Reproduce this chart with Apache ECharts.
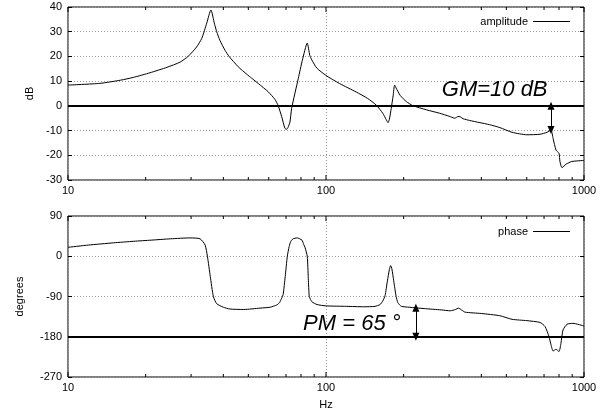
<!DOCTYPE html>
<html>
<head>
<meta charset="utf-8">
<script src="https://cdn.jsdelivr.net/npm/echarts@6/dist/echarts.min.js"></script>
<style>
html, body { margin: 0; padding: 0; background: #fff; }
#chart { width: 600px; height: 415px; }
</style>
</head>
<body>
<div id="chart"></div>
<script>
// amplitude curve (Hz, dB)
var ampFreq = [10, 13.3, 16, 17.9, 20.8, 24.2, 27.2, 29.2, 31.5, 33, 34.5, 35.8, 37, 37.7, 38.8, 40.6, 42.1, 45.7, 49.3, 51.5,
  54.7, 59.7, 63.4, 65.3, 67.3, 69.3, 70.4, 71.2, 72.5, 73.6, 78.1, 81, 84.6, 86.5, 88.1, 92.1, 100, 113, 131, 145,
  157, 166, 171, 174, 176, 179, 182, 184.5, 187, 194, 205, 217, 245, 276, 300, 316, 325, 331, 340, 360,
  395, 430, 472, 526, 601, 675, 719, 745, 759, 779, 800, 807, 822, 852, 898, 1000];
var ampDb = [8.4, 9.1, 10.4, 11.5, 13.4, 15.6, 17.7, 20.0, 23.8, 27.3, 33.5, 38.8, 33.0, 30.0, 26.5, 22.5, 20.0, 15.8, 12.8, 11.2,
  9.0, 5.7, 2.6, 0, -4.3, -9.1, -9.5, -8.8, -6.5, -1, 11.1, 18.5, 25.4, 20.5, 18.6, 15.3, 12.3, 9.0, 5.6, 3.0,
  0.2, -3.0, -5.5, -6.8, -5.5, -1, 4, 8.4, 7.2, 4.2, 1.7, 0.1, -1.6, -3.0, -4.2, -5.0, -4.3, -4.4, -5.2, -5.9,
  -6.8, -7.6, -8.8, -10.7, -11.7, -11.5, -10.7, -9.8, -13.2, -17.9, -19.2, -22.6, -25.0, -23.6, -22.5, -22.1];

// phase curve (Hz, degrees)
var phaseFreq = [10, 12, 15, 18, 21, 25, 29.7, 32.5, 34, 34.7, 35.6, 36.6, 37.7, 40, 42.4, 48, 55.5, 60.7, 64.4, 66,
  67.3, 68.2, 69.5, 70.8, 72, 73, 74.5, 77.3, 80.7, 82, 82.9, 84.6, 85.4, 86.1, 87, 88.2, 92.3, 100, 120, 140,
  155, 162, 166, 169.4, 173, 176, 178, 180, 183, 187, 190, 196, 210, 240, 280, 303, 318, 326, 335, 346,
  400, 472, 526, 601, 675, 706, 732, 745, 759, 779, 800, 814, 829, 860, 906, 1000];
var phaseDeg = [20, 25, 30, 33.5, 36, 39, 41, 39, 25, 0, -45, -90, -106, -114, -118, -119, -116, -114, -109, -104,
  -94, -86, -45, 0, 22, 33, 39, 41, 36, 26, 20, 0, -50, -90, -96, -102, -108, -111, -112, -113,
  -112, -108, -100, -88, -55, -30, -21, -28, -55, -90, -104, -112, -114, -117, -120, -122, -119, -116, -120, -125,
  -128, -133, -141, -144, -148, -157, -180, -198, -212, -208, -213, -195, -165, -152, -150, -156];

// axes
var freqMin = 10, freqMax = 1000;
var freqTicks = [10, 20, 30, 40, 50, 60, 70, 80, 90, 100, 200, 300, 400, 500, 600, 700, 800, 900, 1000];
var dbMin = -30, dbMax = 40, dbStep = 10;
var degMin = -270, degMax = 90, degStep = 90;

// margins
var gmFreq = 745, gmDb = -9.8;
var pmFreq = 223, pmDeg = -115;
var gmText = 'GM=10 dB', gmTextAt = [281, 6.4];
var pmText = 'PM = 65 °', pmTextAt = [81.5, -151.5];

var font = '"Liberation Sans", Arial, Helvetica, sans-serif';

function pairs(xs, ys) {
  return xs.map(function (x, i) { return [x, ys[i]]; });
}

function tickItem(params, api) {
  var f = api.value(0);
  var x = api.coord([f, api.value(1)])[0];
  var cs = params.coordSys;
  var major = Math.abs(Math.log10(f) - Math.round(Math.log10(f))) < 1e-6;
  var len = major ? 5 : 3;
  var bottom = cs.y + cs.height;
  var st = { stroke: '#000', lineWidth: 1 };
  return {
    type: 'group',
    children: [
      { type: 'line', shape: { x1: x, y1: bottom, x2: x, y2: bottom - len }, style: st },
      { type: 'line', shape: { x1: x, y1: cs.y, x2: x, y2: cs.y + len }, style: st }
    ]
  };
}

function xAxisFor(i, name) {
  return {
    type: 'log', logBase: 10, gridIndex: i, min: freqMin, max: freqMax,
    name: name, nameLocation: 'middle', nameGap: 22,
    nameTextStyle: { color: '#000', fontSize: 11, fontFamily: font },
    axisLine: { show: false }, axisTick: { show: false },
    axisLabel: { color: '#000', fontSize: 11, fontFamily: font, margin: 5,
      formatter: function (v) { return String(Math.round(v)); } },
    splitLine: { show: true, lineStyle: { color: '#999', type: [1, 2], width: 1 } }
  };
}

function yAxisFor(i, min, max, step, name, gap, right) {
  return {
    type: 'value', gridIndex: i, min: min, max: max, interval: step,
    position: right ? 'right' : 'left',
    name: right ? '' : name, nameLocation: 'middle', nameGap: gap,
    nameTextStyle: { color: '#000', fontSize: 11, fontFamily: font },
    axisLine: { show: false },
    axisTick: { show: true, inside: true, length: 4, lineStyle: { color: '#000' } },
    axisLabel: { show: !right, color: '#000', fontSize: 11, fontFamily: font, margin: 6 },
    splitLine: { show: !right, lineStyle: { color: '#999', type: [1, 2], width: 1 } }
  };
}

function marginLine(f, to, base) {
  return [
    { coord: [f, base], symbol: 'triangle', symbolSize: [7, 8] },
    { coord: [f, to], symbol: 'triangle', symbolSize: [7, 8] }
  ];
}

function textMark(at, text) {
  return {
    silent: true,
    data: [{
      coord: at, symbol: 'circle', symbolSize: 0,
      label: { show: true, formatter: text, position: [0, 0], align: 'left', verticalAlign: 'middle',
        color: '#000', fontSize: 22, fontStyle: 'italic', fontFamily: font }
    }]
  };
}

function legendFor(name, top) {
  return {
    data: [name], right: 25, top: top, align: 'right', icon: 'rect', itemWidth: 37, itemHeight: 1,
    textStyle: { color: '#000', fontSize: 11, fontFamily: font }
  };
}

var chart = echarts.init(document.getElementById('chart'));
chart.setOption({
  animation: false,
  backgroundColor: '#fff',
  grid: [
    { left: 68, top: 7, width: 516, height: 173, show: true, borderColor: '#000', borderWidth: 1 },
    { left: 68, top: 216, width: 516, height: 161, show: true, borderColor: '#000', borderWidth: 1 }
  ],
  legend: [legendFor('amplitude', 11), legendFor('phase', 221)],
  xAxis: [xAxisFor(0, ''), xAxisFor(1, 'Hz')],
  yAxis: [
    yAxisFor(0, dbMin, dbMax, dbStep, 'dB', 32, false),
    yAxisFor(1, degMin, degMax, degStep, 'degrees', 43, false),
    yAxisFor(0, dbMin, dbMax, dbStep, '', 0, true),
    yAxisFor(1, degMin, degMax, degStep, '', 0, true)
  ],
  series: [
    {
      name: 'amplitude', type: 'line', xAxisIndex: 0, yAxisIndex: 0,
      data: pairs(ampFreq, ampDb), symbol: 'none', smooth: 0.2,
      lineStyle: { color: '#000', width: 1 }, itemStyle: { color: '#000' },
      markLine: {
        silent: true, symbol: ['none', 'none'], label: { show: false },
        lineStyle: { color: '#000', type: 'solid', width: 1 },
        data: [
          { yAxis: 0, lineStyle: { width: 2 } },
          marginLine(gmFreq, gmDb, 0)
        ]
      },
      markPoint: textMark(gmTextAt, gmText)
    },
    {
      name: 'phase', type: 'line', xAxisIndex: 1, yAxisIndex: 1,
      data: pairs(phaseFreq, phaseDeg), symbol: 'none', smooth: 0.2,
      lineStyle: { color: '#000', width: 1 }, itemStyle: { color: '#000' },
      markLine: {
        silent: true, symbol: ['none', 'none'], label: { show: false },
        lineStyle: { color: '#000', type: 'solid', width: 1 },
        data: [
          { yAxis: -180, lineStyle: { width: 2 } },
          marginLine(pmFreq, pmDeg, -180)
        ]
      },
      markPoint: textMark(pmTextAt, pmText)
    },
    {
      type: 'custom', xAxisIndex: 0, yAxisIndex: 0, silent: true,
      data: freqTicks.map(function (f) { return [f, 0]; }), renderItem: tickItem
    },
    {
      type: 'custom', xAxisIndex: 1, yAxisIndex: 1, silent: true,
      data: freqTicks.map(function (f) { return [f, 0]; }), renderItem: tickItem
    }
  ]
});
</script>
</body>
</html>
